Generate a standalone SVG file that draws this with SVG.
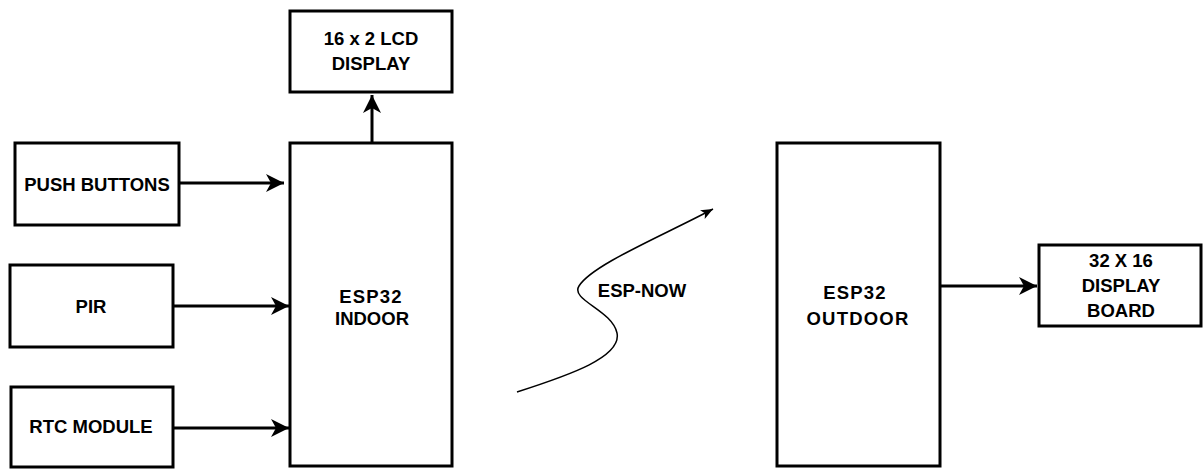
<svg xmlns="http://www.w3.org/2000/svg" width="1204" height="469" viewBox="0 0 1204 469">
<style>
.box{fill:#fff;stroke:#000;stroke-width:3}
.t{font-family:"Liberation Sans",Arial,sans-serif;font-weight:bold;font-size:18.5px;fill:#000;text-anchor:middle}
.s{letter-spacing:1.2px}
.c{fill:none;stroke:#000;stroke-width:3}
.w{fill:none;stroke:#000;stroke-width:1.5}
</style>
<defs>
<marker id="ah" markerUnits="userSpaceOnUse" markerWidth="20" markerHeight="20" refX="18" refY="9" orient="auto" overflow="visible">
<path d="M0,0 L18,9 L0,18 L5,9 z" fill="#000"/>
</marker>
<marker id="ahs" markerUnits="userSpaceOnUse" markerWidth="14" markerHeight="12" refX="12" refY="5" orient="auto" overflow="visible">
<path d="M0,0 L12,5 L0,10 L3,5 z" fill="#000"/>
</marker>
</defs>
<rect width="1204" height="469" fill="#fff"/>
<g id="connectors">
<line class="c" x1="372" y1="143" x2="372" y2="95" marker-end="url(#ah)"/>
<line class="c" x1="179" y1="183" x2="284" y2="183" marker-end="url(#ah)"/>
<line class="c" x1="173" y1="306" x2="289" y2="306" marker-end="url(#ah)"/>
<line class="c" x1="173" y1="428" x2="289" y2="428" marker-end="url(#ah)"/>
<line class="c" x1="940" y1="286" x2="1037" y2="286" marker-end="url(#ah)"/>
<path class="w" d="M517,392 C570,375 622,357 617,333 C612,310 570,300 579,286 C592,265 660,237 713,209" marker-end="url(#ahs)"/>
<text class="t" x="642" y="297">ESP-NOW</text>
</g>
<g id="lcd">
<rect class="box" x="290" y="11" width="162" height="81"/>
<text class="t" x="371" y="45">16 x 2 LCD</text>
<text class="t" x="371" y="70">DISPLAY</text>
</g>
<g id="push">
<rect class="box" x="15" y="143" width="164" height="82"/>
<text class="t" x="97" y="191">PUSH BUTTONS</text>
</g>
<g id="pir">
<rect class="box" x="10" y="265" width="163" height="82"/>
<text class="t" x="91" y="313">PIR</text>
</g>
<g id="rtc">
<rect class="box" x="11" y="387" width="162" height="80"/>
<text class="t" x="91" y="433">RTC MODULE</text>
</g>
<g id="indoor">
<rect class="box" x="290" y="143" width="162" height="323"/>
<text class="t s" x="371" y="303">ESP32</text>
<text class="t" x="372" y="325">INDOOR</text>
</g>
<g id="outdoor">
<rect class="box" x="777" y="143" width="163" height="323"/>
<text class="t s" x="855" y="299">ESP32</text>
<text class="t s" x="858" y="325">OUTDOOR</text>
</g>
<g id="board">
<rect class="box" x="1039" y="245" width="162" height="81"/>
<text class="t" x="1121" y="267">32 X 16</text>
<text class="t" x="1121" y="292">DISPLAY</text>
<text class="t" x="1121" y="317">BOARD</text>
</g>
</svg>
